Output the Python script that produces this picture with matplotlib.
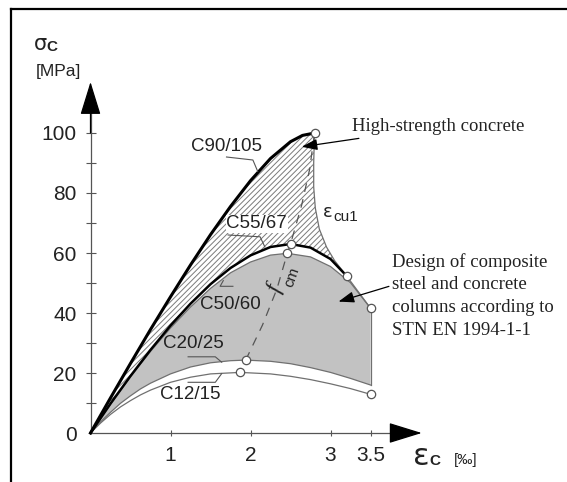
import matplotlib
matplotlib.use("Agg")
import matplotlib.pyplot as plt
from matplotlib.patches import FancyArrowPatch
from matplotlib.lines import Line2D

plt.rcParams['hatch.linewidth'] = 0.7

# stress-strain curves (strain in permille, stress in MPa)
eps_c90 = [0, 0.25, 0.5, 0.75, 1.0, 1.25, 1.5, 1.75, 2.0, 2.25, 2.5, 2.65, 2.8]
sig_c90 = [0, 11.7, 23.2, 34.5, 45.4, 56.0, 66.1, 75.5, 84.1, 91.5, 97.1, 99.2, 100]

eps_c55 = [0, 0.25, 0.5, 0.75, 1.0, 1.25, 1.5, 1.75, 2.0, 2.25, 2.5, 2.75, 3.0, 3.2]
sig_c55 = [0, 9.8, 19.0, 27.7, 35.8, 43.1, 49.6, 55.0, 59.2, 62.0, 63.0, 61.8, 58.0, 52.4]

eps_c50 = [0, 0.25, 0.5, 0.75, 1.0, 1.25, 1.5, 1.75, 2.0, 2.25, 2.46, 2.75, 3.0, 3.25, 3.5]
sig_c50 = [0, 9.6, 18.8, 27.2, 35.0, 42.0, 48.2, 53.4, 57.0, 59.3, 59.9, 58.7, 55.5, 50.1, 41.6]

eps_c20 = [0, 0.125, 0.25, 0.375, 0.5, 0.625, 0.75, 1.0, 1.25, 1.5, 1.75, 1.94, 2.25, 2.5, 2.75, 3.0, 3.25, 3.5]
sig_c20 = [0, 3.7, 6.9, 9.9, 12.4, 14.7, 16.6, 19.7, 22.0, 23.4, 24.1, 24.3, 23.9, 23.1, 21.8, 20.2, 18.2, 16.0]

eps_c12 = [0, 0.125, 0.25, 0.375, 0.5, 0.625, 0.75, 1.0, 1.25, 1.5, 1.87, 2.25, 2.5, 2.75, 3.0, 3.25, 3.5]
sig_c12 = [0, 3.3, 6.2, 8.7, 10.8, 12.7, 14.3, 16.9, 18.6, 19.7, 20.2, 19.7, 18.9, 17.8, 16.4, 14.8, 12.9]

# ultimate strain line and mean strength line
eps_cu1 = [2.8, 2.79, 2.79, 2.81, 2.86, 2.95, 3.05, 3.2, 3.35, 3.5]
sig_cu1 = [100, 90, 82, 75, 68, 62, 57.5, 52.4, 47, 41.6]

eps_fcm = [1.94, 2.15, 2.33, 2.46, 2.5, 2.64, 2.74, 2.8]
sig_fcm = [24.3, 36, 48, 59.9, 63, 76, 88, 100]

peak_eps = [2.8, 2.5, 2.46, 1.94, 1.87]
peak_sig = [100, 63, 59.9, 24.3, 20.2]
end_eps = [3.2, 3.5, 3.5]
end_sig = [52.4, 41.6, 12.9]

yticks = [0, 10, 20, 30, 40, 50, 60, 70, 80, 90, 100]
ylabels = ['0', '', '20', '', '40', '', '60', '', '80', '', '100']
xticks = [1, 2, 3, 3.5]
xlabels = ['1', '2', '3', '3.5']

sans = 'Liberation Sans'
serif = 'Liberation Serif'
txt = '#222222'

fig = plt.figure(figsize=(5.67, 4.82), dpi=100)
ax = fig.add_axes([0, 0, 1, 1])
ax.set_xlim(-1.13125, 5.95625)
ax.set_ylim(-16.333, 144.333)

# outer frame (top and left edges)
fig.add_artist(Line2D([11 / 567, 1], [1 - 9 / 482, 1 - 9 / 482], color='black', lw=1.6))
fig.add_artist(Line2D([11 / 567, 11 / 567], [0, 1 - 9 / 482], color='black', lw=1.6))

# gray design region between C50/60 and C20/25
ax.fill(eps_c50 + eps_c20[::-1], sig_c50 + sig_c20[::-1], facecolor='#c2c2c2', edgecolor='none', zorder=1)

# hatched high-strength region
hx = eps_c90 + eps_cu1[1:8] + eps_c55[::-1]
hy = sig_c90 + sig_cu1[1:8] + sig_c55[::-1]
ax.fill(hx, hy, facecolor='white', edgecolor='#7a7a7a', hatch='//////', lw=0, zorder=1)

ax.plot(eps_c12, sig_c12, color='#707070', lw=0.9, zorder=2)
ax.plot(eps_c20, sig_c20, color='#707070', lw=0.9, zorder=2)
ax.plot([3.5, 3.5], [sig_c20[-1], sig_c50[-1]], color='#707070', lw=0.9, zorder=2)
ax.plot(eps_c50, sig_c50, color='#707070', lw=0.9, zorder=2)
ax.plot(eps_cu1, sig_cu1, color='#707070', lw=0.9, zorder=2)
ax.plot(eps_c55, sig_c55, color='black', lw=1.8, zorder=3)
ax.plot(eps_c90, sig_c90, color='black', lw=2.2, zorder=3)
ax.plot(eps_fcm, sig_fcm, color='#555555', lw=0.9, ls=(0, (7, 6)), zorder=3)

ax.plot(peak_eps, peak_sig, 'o', ms=6, mfc='white', mec='#555555', mew=0.9, zorder=4)
ax.plot(end_eps, end_sig, 'o', ms=6, mfc='white', mec='#555555', mew=0.9, zorder=4)

# axes with arrows
for s in ['top', 'right']:
    ax.spines[s].set_visible(False)
ax.spines['left'].set_position(('data', 0))
ax.spines['bottom'].set_position(('data', 0))
ax.spines['left'].set_bounds(0, 110)
ax.spines['bottom'].set_bounds(0, 3.9)
ax.spines['left'].set_color('#555555')
ax.spines['bottom'].set_color('#555555')
ax.spines['left'].set_linewidth(0.9)
ax.spines['bottom'].set_linewidth(0.9)

ax.set_yticks(yticks)
ax.set_yticklabels(ylabels, fontsize=15, family=sans, color=txt)
ax.set_xticks(xticks)
ax.set_xticklabels(xlabels, fontsize=15, family=sans, color=txt)
ax.tick_params(axis='y', direction='inout', length=7, width=0.8, color='#555555', pad=6.5)
ax.tick_params(axis='x', direction='inout', length=4, width=0.8, color='#555555', pad=7)
ax.yaxis.get_major_ticks()[0].tick1line.set_visible(False)

for start, end in [((0, 100), (0, 117)), ((3.8, 0), (4.14, 0))]:
    ax.add_patch(FancyArrowPatch(start, end, arrowstyle='-|>,head_length=21,head_width=6.5',
                                 mutation_scale=1, color='black', lw=0.9, shrinkA=0, shrinkB=0, zorder=5))

# axis titles
ax.text(-0.62, 129.7, 'σ', fontsize=15, family='DejaVu Sans', color=txt, ha='center', va='center')
ax.text(-0.48, 128.6, 'C', fontsize=11, family=sans, weight='bold', color=txt, ha='center', va='center')
ax.text(-0.405, 120.4, '[MPa]', fontsize=12.5, family=sans, color=txt, ha='center', va='center')
ax.text(4.13, -7.7, 'ε', fontsize=22, family='DejaVu Sans', color=txt, ha='center', va='center')
ax.text(4.31, -9.4, 'C', fontsize=11, family=sans, weight='bold', color=txt, ha='center', va='center')
ax.text(4.69, -9.0, '[‰]', fontsize=11, family=sans, color=txt, ha='center', va='center')

# grade labels with leader lines
ax.text(1.694, 95.4, 'C90/105', fontsize=13.5, family=sans, color=txt, ha='center', va='center', zorder=6)
ax.plot([1.70, 2.03, 2.09], [92.0, 91.0, 87.2], color='#555555', lw=0.8, zorder=6)
ax.text(2.078, 69.7, 'C55/67', fontsize=13.5, family=sans, color=txt, ha='center', va='center', zorder=6,
        bbox=dict(facecolor='white', edgecolor='none', pad=0.5))
ax.plot([1.72, 2.12, 2.18], [66.0, 65.4, 62.0], color='#555555', lw=0.8, zorder=6)
ax.text(1.75, 43.0, 'C50/60', fontsize=13.5, family=sans, color=txt, ha='center', va='center', zorder=6)
ax.plot([1.78, 1.62, 1.66], [48.9, 48.9, 50.8], color='#555555', lw=0.8, zorder=6)
ax.text(1.285, 29.9, 'C20/25', fontsize=13.5, family=sans, color=txt, ha='center', va='center', zorder=6)
ax.plot([1.22, 1.56, 1.64], [25.4, 25.4, 23.6], color='#555555', lw=0.8, zorder=6)
ax.text(1.25, 12.7, 'C12/15', fontsize=13.5, family=sans, color=txt, ha='center', va='center', zorder=6)
ax.plot([1.22, 1.56, 1.64], [16.9, 16.9, 19.8], color='#555555', lw=0.8, zorder=6)

ax.text(2.97, 73.8, 'ε', fontsize=13, family='DejaVu Sans', color=txt, ha='center', va='center')
ax.text(3.03, 72.0, 'cu1', fontsize=11, family=sans, color=txt, ha='left', va='center')
ax.text(2.306, 48.2, 'f', fontsize=17, family=serif, style='italic', color=txt, ha='center', va='center',
        rotation=70)
ax.text(2.515, 52.1, 'cm', fontsize=11, family=sans, color=txt, ha='center', va='center', rotation=70)

# descriptive annotations
ax.annotate('High-strength concrete', xy=(2.64, 95.4), xytext=(3.27, 102.1), fontsize=13.5, family=serif,
            color=txt, ha='left', va='center',
            arrowprops=dict(arrowstyle='-|>,head_length=0.7,head_width=0.25', color='black', lw=0.9,
                            shrinkA=2, shrinkB=0))
ax.annotate('Design of composite\nsteel and concrete\ncolumns according to\nSTN EN 1994-1-1',
            xy=(3.10, 43.8), xytext=(3.765, 45.7), fontsize=13.5, family=serif, color=txt,
            ha='left', va='center', linespacing=1.45,
            arrowprops=dict(arrowstyle='-|>,head_length=0.7,head_width=0.25', color='black', lw=0.9,
                            shrinkA=0, shrinkB=0, relpos=(0, 0.62)))

fig.savefig('out.png', dpi=100)
